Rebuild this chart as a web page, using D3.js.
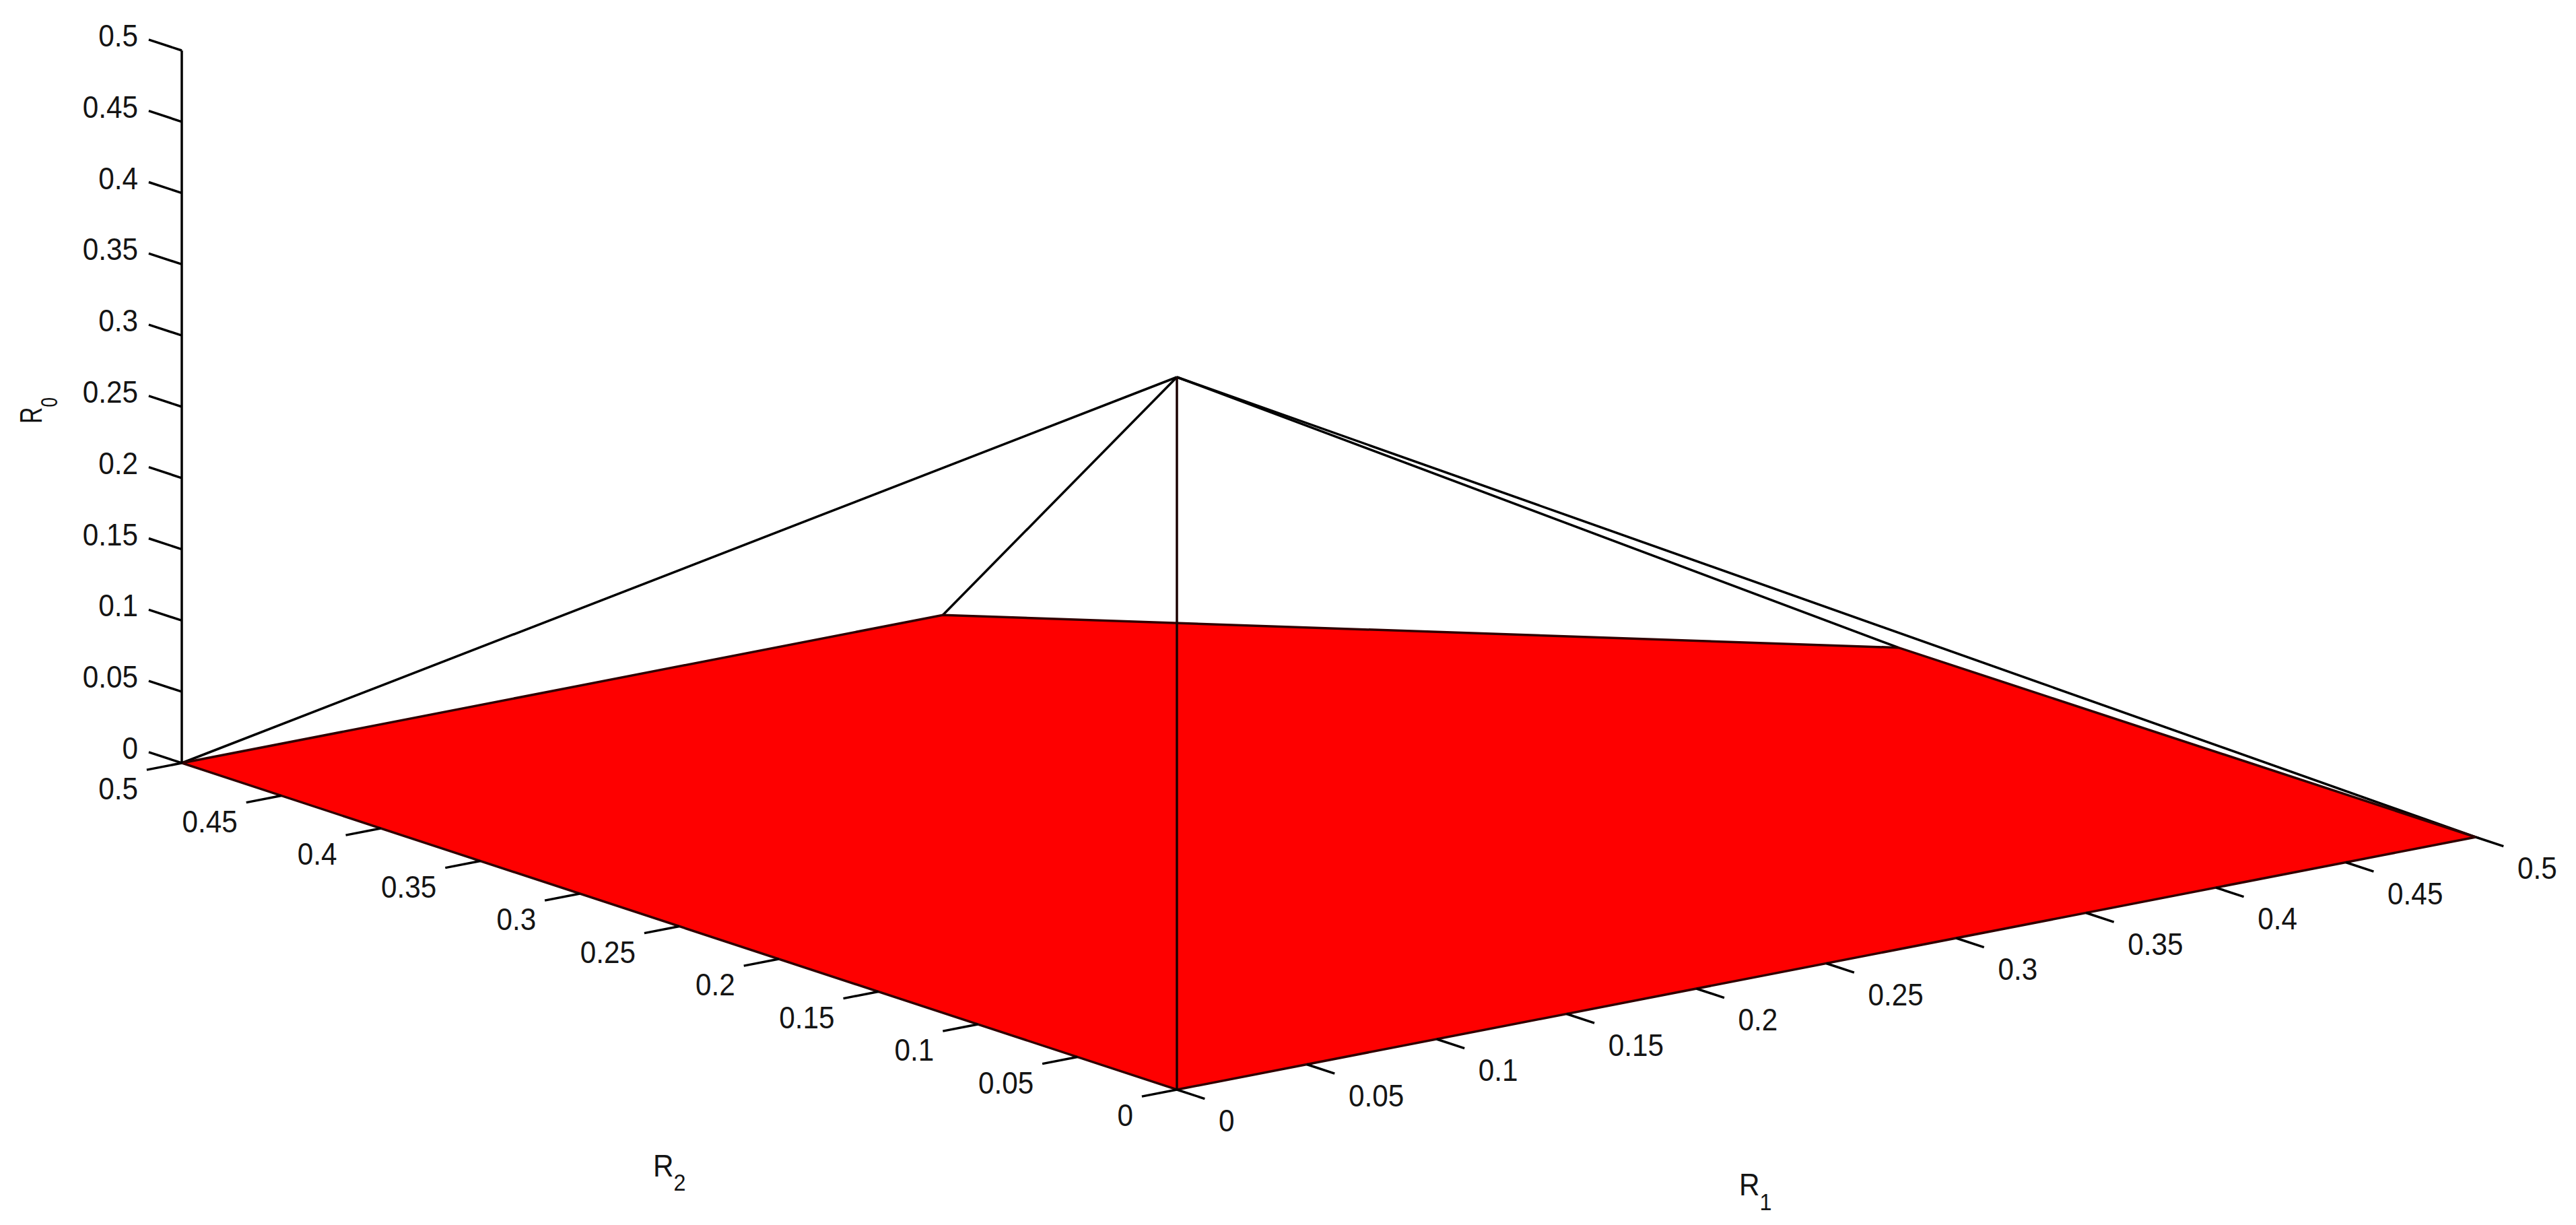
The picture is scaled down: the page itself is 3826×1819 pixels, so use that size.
<!DOCTYPE html>
<html>
<head>
<meta charset="utf-8">
<script src="https://cdn.jsdelivr.net/npm/d3@7"></script>
<style>
html,body{margin:0;padding:0;background:#fff;}
svg{display:block;}
text{font-family:"Liberation Sans",Arial,sans-serif;fill:#141414;}
</style>
</head>
<body>
<div id="chart"></div>
<script>
// Data: tick values and labels
const r1Ticks = [0, 0.05, 0.1, 0.15, 0.2, 0.25, 0.3, 0.35, 0.4, 0.45, 0.5];
const r2Ticks = [0, 0.05, 0.1, 0.15, 0.2, 0.25, 0.3, 0.35, 0.4, 0.45, 0.5];
const r0Ticks = [0, 0.05, 0.1, 0.15, 0.2, 0.25, 0.3, 0.35, 0.4, 0.45, 0.5];
// Vertices of the feasible floor polygon, in [R1, R2, R0]
const floorVertices = [[0,0,0],[0.5,0,0],[0.5,0.29,0],[0.293,0.5,0],[0,0.5,0]];
// Apex of the pyramid, in [R1, R2, R0]
const apex = [0,0,0.5];
const width = 3826, height = 1819;

// Scales of the oblique (orthographic 3-D) view
const originX = 1748, originY = 1618;
const r1X = d3.scaleLinear().domain([0,0.5]).range([0,1929]);
const r1Y = d3.scaleLinear().domain([0,0.5]).range([0,-375]);
const r2X = d3.scaleLinear().domain([0,0.5]).range([0,-1478]);
const r2Y = d3.scaleLinear().domain([0,0.5]).range([0,-485]);
const r0Y = d3.scaleLinear().domain([0,0.5]).range([0,-1058]);
const project = ([a,b,c]) => [originX + r1X(a) + r2X(b), originY + r1Y(a) + r2Y(b) + r0Y(c)];
const fmt = d => String(+d);

const svg = d3.select("#chart").append("svg").attr("width",width).attr("height",height)
  .attr("viewBox",[0,0,width,height]);
svg.append("rect").attr("width",width).attr("height",height).attr("fill","#fff");

const line = d3.line();
const INK = "#000";
const SW = 3.5;

// Lines from the apex to the back vertices (drawn first)
svg.append("g").selectAll("path").data(floorVertices.filter(v => v[0]||v[1])).join("path")
  .attr("d", v => line([project(apex), project(v)]))
  .attr("fill","none").attr("stroke",INK).attr("stroke-width",SW);

// Red floor polygon
svg.append("path").attr("d", line(floorVertices.map(project)) + "Z")
  .attr("fill","#fe0000").attr("stroke","#300000").attr("stroke-width",SW).attr("stroke-linejoin","miter");

// Apex to origin edge, on top of the polygon
svg.append("path").attr("d", line([project(apex), project([0,0,0])]))
  .attr("fill","none").attr("stroke","#1a0000").attr("stroke-width",SW);

// R0 axis line, at R1 = 0, R2 = 0.5
svg.append("path").attr("d", line([project([0,0.5,0]), project([0,0.5,0.5])]))
  .attr("fill","none").attr("stroke",INK).attr("stroke-width",SW);

const tickStroke = sel => sel.attr("fill","none").attr("stroke",INK).attr("stroke-width",SW);
const HS = 0.9, FS = 47;

// R0 ticks & labels
const g0 = svg.append("g");
g0.selectAll("path").data(r0Ticks).join("path")
  .attr("d", t => line([project([0,0.5,t]), project([0,0.5166,t])])).call(tickStroke);
g0.selectAll("text").data(r0Ticks).join("text")
  .attr("transform", t => { const p = project([0,0.5,t]); return `translate(205,${p[1]-6}) scale(${HS},1)`; })
  .attr("text-anchor","end").attr("font-size",FS).text(fmt);

// R2 ticks & labels, along R1 = 0
const g2 = svg.append("g");
g2.selectAll("path").data(r2Ticks).join("path")
  .attr("d", t => line([project([0,t,0]), project([-0.0135,t,0])])).call(tickStroke);
g2.selectAll("text").data(r2Ticks).join("text")
  .attr("transform", t => { const p = project([0,t,0]); return `translate(${p[0]-65},${p[1]+54}) scale(${HS},1)`; })
  .attr("text-anchor","end").attr("font-size",FS).text(fmt);

// R1 ticks & labels, along R2 = 0
const g1 = svg.append("g");
g1.selectAll("path").data(r1Ticks).join("path")
  .attr("d", t => line([project([t,0,0]), project([t,-0.014,0])])).call(tickStroke);
g1.selectAll("text").data(r1Ticks).join("text")
  .attr("transform", t => { const p = project([t,0,0]); return `translate(${p[0]+62},${p[1]+62}) scale(${HS},1)`; })
  .attr("text-anchor","start").attr("font-size",FS).text(fmt);

// Axis titles
function title(transform, sub, dy){
  const t = svg.append("text").attr("transform",transform).attr("font-size",FS);
  t.append("tspan").text("R");
  t.append("tspan").attr("font-size",36).attr("dy",dy).text(sub);
}
title(`translate(970,1747) scale(${HS},1)`, "2", 21);
title(`translate(2583,1775) scale(${HS},1)`, "1", 22);
title(`translate(62,629) rotate(-90) scale(0.72,1)`, "0", 23);
</script>
</body>
</html>
